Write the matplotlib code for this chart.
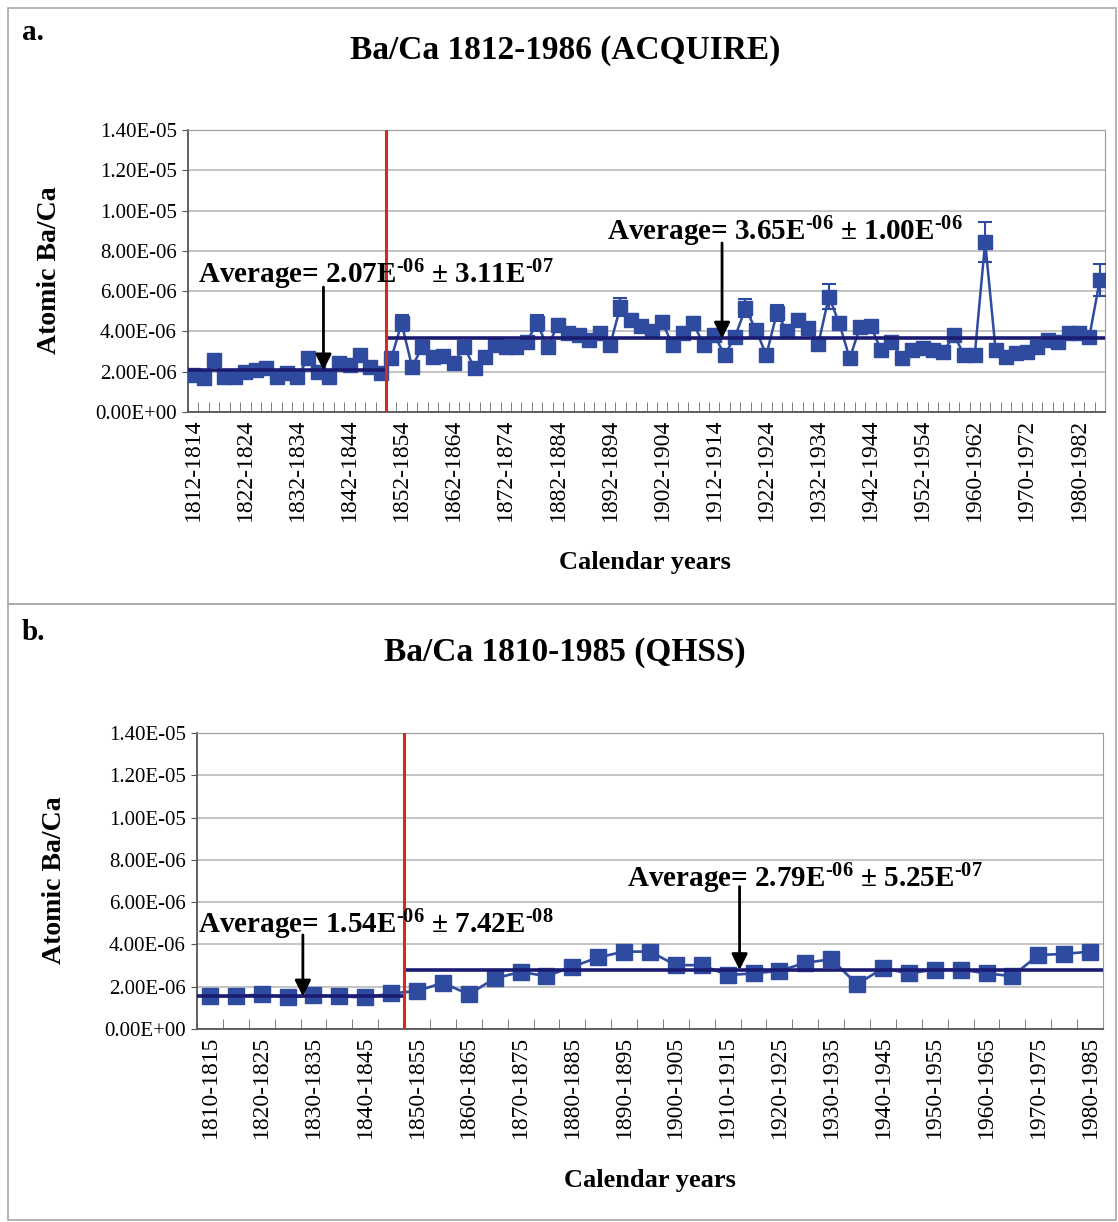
import matplotlib
matplotlib.use("Agg")
import matplotlib.pyplot as plt
import matplotlib.patches as mpatches
import numpy as np

plt.rcParams['font.family'] = ['Liberation Serif', 'DejaVu Serif']
plt.rcParams['mathtext.fontset'] = 'custom'
plt.rcParams['mathtext.bf'] = 'Liberation Serif:bold'
plt.rcParams['mathtext.rm'] = 'Liberation Serif:bold'
plt.rcParams['mathtext.default'] = 'bf'

# ---- ACQUIRE record, 2-year bins ----
acq_labels = [f"{y}-{y + 2}" for y in range(1812, 1954, 2)] + \
    ["1954-1956", "1956-1958", "1958-1959", "1959-1960"] + \
    [f"{y}-{y + 2}" for y in range(1960, 1986, 2)]
acq_values = [1.84, 1.67, 2.58, 1.72, 1.72, 2.00, 2.08, 2.17, 1.72, 1.95,
              1.72, 2.66, 2.00, 1.72, 2.42, 2.33, 2.83, 2.25, 1.92,
              2.66, 4.40, 2.25, 3.24, 2.75, 2.80, 2.42, 3.24, 2.17, 2.75,
              3.32, 3.24, 3.24, 3.49, 4.40, 3.24, 4.32, 3.90, 3.82, 3.57,
              3.90, 3.32, 5.23, 4.57, 4.25, 4.00, 4.48, 3.32, 3.90, 4.40,
              3.32, 3.82, 2.83, 3.74, 5.15, 4.07, 2.83, 4.90, 4.00, 4.57,
              4.15, 3.40, 5.73, 4.40, 2.66, 4.23, 4.28, 3.08, 3.49, 2.66,
              3.08, 3.16, 3.08, 2.99, 3.82, 2.83, 2.83, 8.45, 3.08, 2.75,
              2.91, 2.99, 3.24, 3.57, 3.49, 3.90, 3.90, 3.74, 6.55]
acq_errors = [0.12] * 19 + \
    [0.15, 0.40, 0.15, 0.20, 0.15, 0.15, 0.15, 0.20, 0.15, 0.15,
     0.15, 0.15, 0.15, 0.20, 0.40, 0.15, 0.30, 0.20, 0.25, 0.20,
     0.20, 0.15, 0.45, 0.30, 0.20, 0.20, 0.30, 0.15, 0.20, 0.30,
     0.15, 0.20, 0.15, 0.20, 0.45, 0.20, 0.15, 0.40, 0.20, 0.30,
     0.20, 0.15, 0.60, 0.30, 0.15, 0.20, 0.20, 0.15, 0.15, 0.15,
     0.15, 0.15, 0.15, 0.15, 0.25, 0.15, 0.15, 1.00, 0.15, 0.15,
     0.15, 0.15, 0.15, 0.15, 0.15, 0.20, 0.20, 0.20, 0.80]
acq_split = 18.5
acq_avg = [2.07, 3.65]

# ---- QHSS record, 5-year bins ----
qhss_labels = [f"{y}-{y + 5}" for y in range(1810, 1985, 5)]
qhss_values = [1.55, 1.55, 1.64, 1.49, 1.59, 1.55, 1.49, 1.68,
               1.80, 2.18, 1.64, 2.39, 2.70, 2.50, 2.94, 3.39, 3.66,
               3.66, 3.02, 3.02, 2.55, 2.63, 2.75, 3.13, 3.30, 2.12,
               2.87, 2.63, 2.81, 2.81, 2.63, 2.50, 3.50, 3.55, 3.66]
qhss_split = 7.5
qhss_avg = [1.54, 2.79]

SCALE = 1e-6
BLUE = '#2E4B9F'
NAVY = '#1B1B72'
RED = '#D42A20'

W, H = 1118, 1222
fig = plt.figure(figsize=(W / 100, H / 100), dpi=100)


def box(x0, y0, x1, y1):
    return [x0 / W, 1 - y1 / H, (x1 - x0) / W, (y1 - y0) / H]


def draw_panel(ax, labels, values, errors, split, avgs, label_step, ms):
    n = len(labels)
    x = np.arange(n)
    y = np.array(values) * SCALE
    if errors is not None:
        ax.errorbar(x, y, yerr=np.array(errors) * SCALE, fmt='s-', color=BLUE,
                    ms=ms, lw=1.8, capsize=5, elinewidth=1.5, capthick=1.5,
                    zorder=4)
    else:
        ax.plot(x, y, 's-', color=BLUE, ms=ms, lw=1.9, zorder=4)

    # period averages on either side of the split
    ax.hlines(avgs[0] * SCALE, -0.5, split, color=NAVY, lw=2.6, zorder=5)
    ax.hlines(avgs[1] * SCALE, split, n - 0.5, color=NAVY, lw=2.6, zorder=5)
    ax.axvline(split, color=RED, lw=2.2, zorder=6)

    ax.set_xlim(-0.5, n - 0.5)
    ax.set_ylim(0, 1.4e-5)
    yt = np.arange(0, 1.41e-5, 2e-6)
    ax.set_yticks(yt)
    ax.set_yticklabels(['0.00E+00'] + [f"{v:.2E}" for v in yt[1:]],
                       fontsize=15)
    ax.yaxis.grid(True, color='#B4B4B4', lw=1.1)
    ax.set_axisbelow(True)
    ax.tick_params(axis='y', direction='out', length=4, color='#555555', pad=4)

    ax.set_xticks(x[::label_step])
    ax.set_xticklabels(labels[::label_step], rotation=90, fontsize=17)
    ax.set_xticks(np.arange(-0.5, n, 1), minor=True)
    ax.tick_params(axis='x', which='major', length=0, pad=5)
    ax.tick_params(axis='x', which='minor', direction='in', length=7,
                   color='#666666')
    for side in ['top', 'right']:
        ax.spines[side].set_color('#9A9A9A')
    for side in ['left', 'bottom']:
        ax.spines[side].set_color('#555555')
        ax.spines[side].set_linewidth(1.3)


def average_note(ax, tx, ty, avg, mean_txt, sd_txt, arrow_x, arrow_top):
    m, me = mean_txt.split('E')
    s, se = sd_txt.split('E')
    note = (f"Average= {m}E$^{{\\text{{{me}}}}}$ ± {s}E$^{{\\text{{{se}}}}}$")
    ax.text(tx, ty * SCALE, note, fontsize=21, fontweight='bold',
            ha='left', va='baseline', zorder=7)
    ax.annotate('', xy=(arrow_x, avg * SCALE), xytext=(arrow_x, arrow_top * SCALE),
                arrowprops=dict(arrowstyle='-|>', color='black', lw=2,
                                mutation_scale=24, shrinkA=0, shrinkB=0),
                zorder=8)


# panel frames
fig.patches.append(mpatches.Rectangle((8 / W, 1 - 604 / H), 1108 / W, 596 / H,
                                      transform=fig.transFigure, fill=False,
                                      ec='#A8A8A8', lw=1.2))
fig.patches.append(mpatches.Rectangle((8 / W, 1 - 1220 / H), 1108 / W, 616 / H,
                                      transform=fig.transFigure, fill=False,
                                      ec='#A8A8A8', lw=1.2))

# ---- panel a ----
ax1 = fig.add_axes(box(188, 130, 1105, 412))
draw_panel(ax1, acq_labels, acq_values, acq_errors, acq_split, acq_avg, 5, 10.5)
average_note(ax1, 0.46, 6.4, acq_avg[0], "2.07E-06", "3.11E-07", 12.5, 6.2)
average_note(ax1, 39.7, 8.54, acq_avg[1], "3.65E-06", "1.00E-06", 50.75, 8.39)

fig.text(22 / W, 1 - 32 / H, 'a.', fontsize=21, fontweight='bold',
         ha='left', va='center')
fig.text(565 / W, 1 - 50 / H, 'Ba/Ca 1812-1986 (ACQUIRE)', fontsize=24,
         fontweight='bold', ha='center', va='center')
fig.text(50 / W, 1 - 270 / H, 'Atomic Ba/Ca', fontsize=20, fontweight='bold',
         rotation=90, ha='center', va='center')
fig.text(645 / W, 1 - 562 / H, 'Calendar years', fontsize=19,
         fontweight='bold', ha='center', va='center')

# ---- panel b ----
ax2 = fig.add_axes(box(197, 733, 1103, 1029))
draw_panel(ax2, qhss_labels, qhss_values, None, qhss_split, qhss_avg, 2, 11)
average_note(ax2, -0.46, 4.55, qhss_avg[0], "1.54E-06", "7.42E-08", 3.59, 4.45)
average_note(ax2, 16.1, 6.69, qhss_avg[1], "2.79E-06", "5.25E-07", 20.46, 6.74)

fig.text(22 / W, 1 - 632 / H, 'b.', fontsize=21, fontweight='bold',
         ha='left', va='center')
fig.text(565 / W, 1 - 652 / H, 'Ba/Ca 1810-1985 (QHSS)', fontsize=24,
         fontweight='bold', ha='center', va='center')
fig.text(55 / W, 1 - 880 / H, 'Atomic Ba/Ca', fontsize=20, fontweight='bold',
         rotation=90, ha='center', va='center')
fig.text(650 / W, 1 - 1181 / H, 'Calendar years', fontsize=19,
         fontweight='bold', ha='center', va='center')

fig.savefig('out.png', dpi=100)
